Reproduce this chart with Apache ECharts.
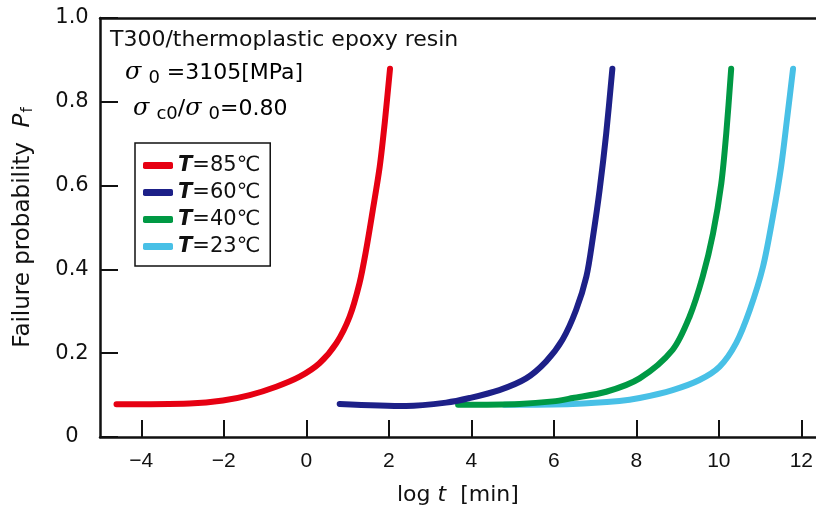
<!DOCTYPE html>
<html>
<head>
<meta charset="utf-8">
<script src="https://cdn.jsdelivr.net/npm/echarts@6/dist/echarts.min.js"></script>
<style>
  html, body { margin: 0; padding: 0; background: #fff; }
  #chart { width: 816px; height: 513px; }
</style>
</head>
<body>
<div id="chart"></div>
<script>
// log t [min] vs failure probability
const xTicks = [-4, -2, 0, 2, 4, 6, 8, 10, 12]
const yTicks = [0, 0.2, 0.4, 0.6, 0.8, 1.0]

const seriesNames = ['T=85℃', 'T=60℃', 'T=40℃', 'T=23℃']
const seriesColors = ['#e60012', '#1d2088', '#009944', '#48c0e6']

const t85X = [-4.60, -2.83, -2.02, -1.37, -0.73, -0.16, 0.32, 0.73, 1.05, 1.29, 1.45, 1.61, 1.78, 1.90, 2.03]
const t85Y = [0.078, 0.080, 0.087, 0.100, 0.120, 0.144, 0.176, 0.224, 0.287, 0.367, 0.446, 0.540, 0.645, 0.748, 0.879]

const t60X = [0.81, 2.42, 3.39, 3.96, 4.68, 5.33, 5.81, 6.21, 6.54, 6.79, 6.95, 7.11, 7.27, 7.42]
const t60Y = [0.079, 0.074, 0.082, 0.093, 0.112, 0.140, 0.180, 0.232, 0.303, 0.383, 0.478, 0.589, 0.724, 0.879]

const t40X = [3.68, 5.17, 5.98, 6.46, 7.27, 8.08, 8.88, 9.29, 9.61, 9.86, 10.06, 10.18, 10.30]
const t40Y = [0.077, 0.079, 0.085, 0.093, 0.108, 0.140, 0.208, 0.287, 0.383, 0.486, 0.605, 0.724, 0.879]

const t23X = [4.80, 6.46, 7.59, 8.08, 8.88, 9.53, 10.02, 10.42, 10.75, 11.07, 11.31, 11.51, 11.66, 11.80]
const t23Y = [0.077, 0.079, 0.086, 0.093, 0.112, 0.136, 0.168, 0.224, 0.303, 0.406, 0.526, 0.645, 0.764, 0.879]

const xs = [t85X, t60X, t40X, t23X]
const ys = [t85Y, t60Y, t40Y, t23Y]

const font = 'Liberation Sans, Arial, sans-serif'
const wide = 'DejaVu Sans, sans-serif'
const chart = echarts.init(document.getElementById('chart'))

// draw order: 23 first so the hotter curves sit on top
const series = [3, 2, 1, 0].map((i) => ({
  name: seriesNames[i],
  type: 'line',
  data: xs[i].map((x, k) => [x, ys[i][k]]),
  smooth: 0.3,
  showSymbol: false,
  lineStyle: { color: seriesColors[i], width: 6, cap: 'round', join: 'round' },
  itemStyle: { color: seriesColors[i] },
  z: 2 + (3 - i)
}))

const sigma = { fontFamily: 'DejaVu Serif', fontStyle: 'italic', fontSize: 24, color: '#111' }
const sub = { fontFamily: wide, fontSize: 18, color: '#111', padding: [10, 0, 0, 0] }
const txt = { fontFamily: wide, fontSize: 22, color: '#111' }

chart.setOption({
  animation: false,
  grid: { left: 100, right: 0, top: 18, bottom: 76 },
  legend: {
    data: seriesNames,
    orient: 'vertical',
    left: 135,
    top: 143,
    padding: [12, 10, 9, 8],
    itemGap: 6,
    itemWidth: 30,
    itemHeight: 7,
    icon: 'roundRect',
    borderColor: '#111',
    borderWidth: 1.5,
    borderRadius: 0,
    formatter: (name) => '{t|T}' + name.slice(1),
    textStyle: {
      fontFamily: wide,
      fontSize: 21,
      color: '#111',
      rich: { t: { fontFamily: wide, fontSize: 21, fontStyle: 'italic', fontWeight: 'bold', color: '#111' } }
    }
  },
  xAxis: [
    {
      type: 'value',
      min: -5,
      max: 12.35,
      name: '{n|log }{i|t}{n|  [min]}',
      nameLocation: 'middle',
      nameGap: 47,
      nameTextStyle: {
        rich: {
          n: { fontFamily: wide, fontSize: 22, color: '#111' },
          i: { fontFamily: wide, fontSize: 22, fontStyle: 'italic', color: '#111' }
        }
      },
      axisLine: { onZero: false, lineStyle: { color: '#111', width: 2.5 } },
      axisTick: { inside: true, length: 17, customValues: xTicks, lineStyle: { color: '#111', width: 2 } },
      axisLabel: {
        customValues: xTicks,
        margin: 14,
        fontFamily: font,
        fontSize: 21,
        color: '#111',
        formatter: (v) => (v < 0 ? '\u2212' + Math.abs(v) : String(v))
      },
      splitLine: { show: false }
    },
    {
      type: 'value',
      position: 'top',
      min: -5,
      max: 12.35,
      axisLine: { onZero: false, lineStyle: { color: '#111', width: 2.5 } },
      axisTick: { show: false },
      axisLabel: { show: false },
      splitLine: { show: false }
    }
  ],
  yAxis: {
    type: 'value',
    min: 0,
    max: 1,
    interval: 0.2,
    name: '{n|Failure probability  }{p|P}{f|f}',
    nameLocation: 'middle',
    nameGap: 64,
    nameTextStyle: {
      rich: {
        n: { fontFamily: wide, fontSize: 23, color: '#111' },
        p: { fontFamily: wide, fontSize: 23, fontStyle: 'italic', color: '#111' },
        f: { fontFamily: wide, fontSize: 15, color: '#111', padding: [10, 0, 0, 1] }
      }
    },
    axisLine: { show: true, onZero: false, lineStyle: { color: '#111', width: 2.5 } },
    axisTick: { inside: true, length: 18, lineStyle: { color: '#111', width: 2 } },
    axisLabel: {
      margin: 28,
      align: 'center',
      fontFamily: wide,
      fontSize: 21,
      color: '#111',
      formatter: (v) => (v === 0 ? '0' : v.toFixed(1))
    },
    splitLine: { show: false }
  },
  graphic: [
    {
      type: 'text',
      left: 110,
      top: 29,
      style: { text: 'T300/thermoplastic epoxy resin', font: '22px ' + wide, fill: '#111' }
    },
    {
      type: 'text',
      left: 125,
      top: 61,
      style: {
        text: '{s|σ}{b| }{u|0}{b| =3105[MPa]}',
        rich: { s: sigma, u: sub, b: txt }
      }
    },
    {
      type: 'text',
      left: 133,
      top: 97,
      style: {
        text: '{s|σ}{b| }{u|c0}{b|/}{s|σ}{b| }{u|0}{b|=0.80}',
        rich: { s: sigma, u: sub, b: txt }
      }
    }
  ],
  series
})
</script>
</body>
</html>
